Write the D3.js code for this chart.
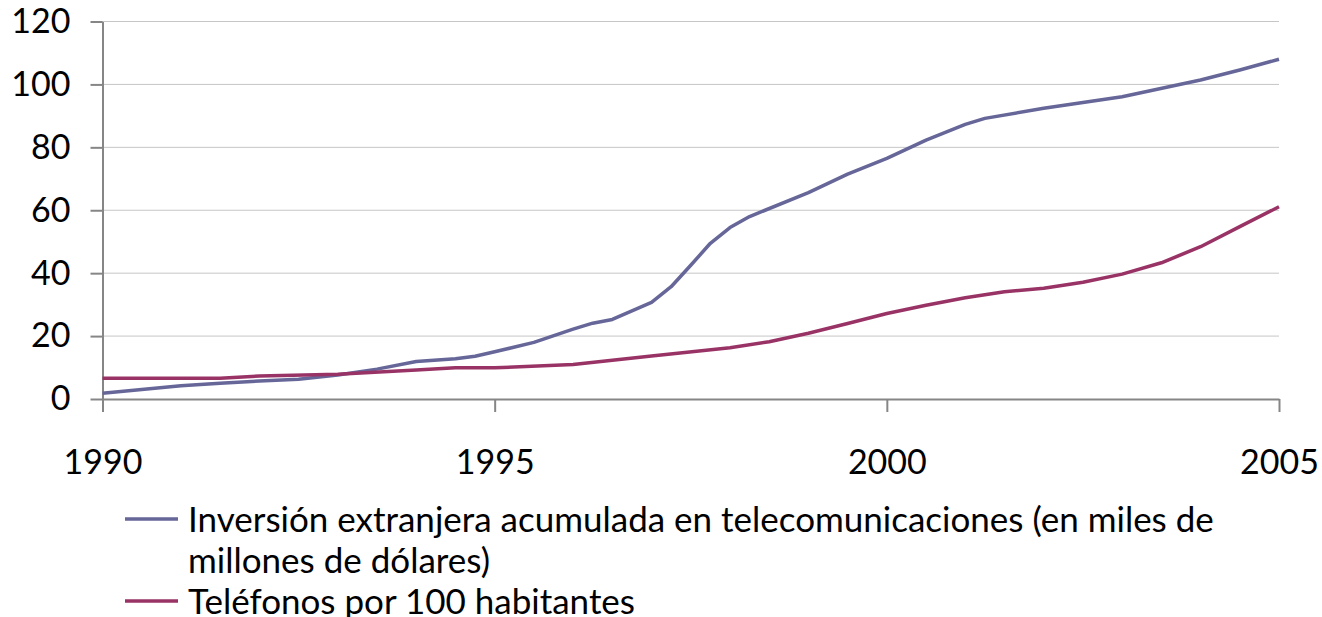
<!DOCTYPE html>
<html>
<head>
<meta charset="utf-8">
<script src="https://cdn.jsdelivr.net/npm/d3@7"></script>
<style>
	body { margin: 0; background: #fff; }
	svg { display: block; font-family: Lato, "Open Sans", sans-serif; }
</style>
</head>
<body>
<div id="lineChart"></div>
<script>
// Inversión extranjera acumulada (miles de millones USD)
const inversionYears = [1990, 1990.5, 1991, 1991.5, 1992, 1992.5, 1993, 1993.5, 1994, 1994.5, 1994.75, 1995,
	1995.5, 1996, 1996.25, 1996.5, 1997, 1997.25, 1997.5, 1997.75, 1998, 1998.25, 1999, 1999.5,
	2000, 2000.5, 2001, 2001.25, 2002, 2003, 2004, 2004.5, 2005];
const inversionValues = [1.8, 3.0, 4.2, 5.0, 5.7, 6.3, 7.6, 9.5, 11.9, 12.8, 13.6, 15.0,
	18.0, 22.2, 24.1, 25.3, 30.7, 35.7, 42.5, 49.5, 54.5, 58.0, 65.6, 71.5,
	76.5, 82.3, 87.3, 89.2, 92.4, 96.1, 101.4, 104.6, 108.0];

// Teléfonos por 100 habitantes
const telefonosYears = [1990, 1991, 1991.5, 1992, 1993, 1994, 1994.5, 1995, 1996, 1997, 1998, 1998.5,
	1999, 1999.5, 2000, 2000.5, 2001, 2001.5, 2002, 2002.5, 2003, 2003.5, 2004, 2004.5, 2005];
const telefonosValues = [6.6, 6.6, 6.6, 7.3, 7.9, 9.2, 9.9, 9.9, 11.0, 13.7, 16.3, 18.2,
	20.9, 24.0, 27.2, 29.8, 32.2, 34.1, 35.2, 37.1, 39.7, 43.3, 48.4, 54.8, 61.1];

const xTicks = [1990, 1995, 2000, 2005];
const yTicks = [0, 20, 40, 60, 80, 100, 120];

const seriesNames = [
	["Inversión extranjera acumulada en telecomunicaciones (en miles de", "millones de dólares)"],
	["Teléfonos por 100 habitantes"]
];
const seriesColors = ["#666699", "#993366"];

function createLineChart() {
	const width = 1322;
	const height = 617;
	const margin = { top: 21.5, right: 43, bottom: 218, left: 102.5 };

	const x = d3.scaleLinear()
		.domain([1990, 2005])
		.range([margin.left, width - margin.right]);

	const y = d3.scaleLinear()
		.domain([0, 120])
		.range([height - margin.bottom, margin.top]);

	const svg = d3.select("div#lineChart")
		.append("svg")
		.attr("width", width)
		.attr("height", height);

	// gridlines
	svg.append("g")
		.selectAll("line")
		.data(yTicks.filter((d) => d > 0))
		.join("line")
		.attr("x1", x(1990))
		.attr("x2", x(2005))
		.attr("y1", (d) => y(d))
		.attr("y2", (d) => y(d))
		.attr("stroke", "#8c8c8c")
		.attr("stroke-width", 1)
		.attr("stroke-dasharray", "1,1");

	const yAxis = (g) =>
		g.attr("transform", `translate(${margin.left}, 0)`)
			.call(d3.axisLeft(y).tickValues(yTicks).tickSize(12).tickPadding(20).tickSizeOuter(0))
			.call((g) => g.selectAll("line, path").attr("stroke", "#868686").attr("stroke-width", 2))
			.call((g) => g.selectAll("text").attr("font-size", 34).attr("fill", "#000")
				.attr("font-family", "Lato, sans-serif"));

	const xAxis = (g) =>
		g.attr("transform", `translate(0, ${y(0)})`)
			.call(d3.axisBottom(x).tickValues(xTicks).tickFormat((d) => d).tickSize(13).tickPadding(38).tickSizeOuter(0))
			.call((g) => g.selectAll("line, path").attr("stroke", "#868686").attr("stroke-width", 2))
			.call((g) => g.selectAll("text").attr("font-size", 34).attr("fill", "#000")
				.attr("font-family", "Lato, sans-serif"));

	svg.append("g").call(yAxis);
	svg.append("g").call(xAxis);

	const inversion = inversionYears.map((yr, i) => ({ year: yr, value: inversionValues[i] }));
	const telefonos = telefonosYears.map((yr, i) => ({ year: yr, value: telefonosValues[i] }));

	const line = d3.line()
		.x((d) => x(d.year))
		.y((d) => y(d.value));

	[inversion, telefonos].forEach((data, i) => {
		svg.append("path")
			.datum(data)
			.attr("fill", "none")
			.attr("stroke", seriesColors[i])
			.attr("stroke-width", 3.5)
			.attr("stroke-linejoin", "round")
			.attr("d", line);
	});

	// legend
	const legend = svg.append("g").attr("font-size", 35).attr("fill", "#000");
	const legendRows = [519, 601];
	seriesNames.forEach((lines, i) => {
		legend.append("line")
			.attr("x1", 125).attr("x2", 178)
			.attr("y1", legendRows[i]).attr("y2", legendRows[i])
			.attr("stroke", seriesColors[i])
			.attr("stroke-width", 3.5);
		const t = legend.append("text")
			.attr("x", 188)
			.attr("y", legendRows[i] + 13);
		lines.forEach((s, k) => {
			t.append("tspan")
				.attr("x", 188)
				.attr("dy", k === 0 ? 0 : 41)
				.text(s);
		});
	});
}

createLineChart();
</script>
</body>
</html>
